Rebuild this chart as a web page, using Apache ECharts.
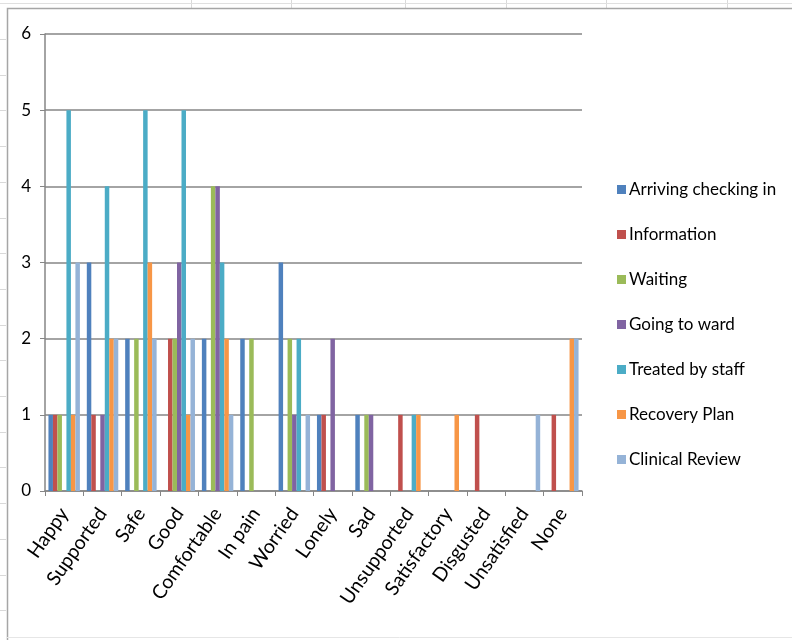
<!DOCTYPE html>
<html>
<head>
<meta charset="utf-8">
<script src="https://cdn.jsdelivr.net/npm/echarts@6/dist/echarts.min.js"></script>
<style>
  html, body { margin: 0; padding: 0; background: #ffffff; }
  #chart { width: 792px; height: 640px; }
</style>
</head>
<body>
<div id="chart"></div>
<script>
// Feelings reported at each stage of the patient journey
const categories = ['Happy', 'Supported', 'Safe', 'Good', 'Comfortable', 'In pain', 'Worried',
  'Lonely', 'Sad', 'Unsupported', 'Satisfactory', 'Disgusted', 'Unsatisfied', 'None'];

const seriesNames = ['Arriving checking in', 'Information', 'Waiting', 'Going to ward',
  'Treated by staff', 'Recovery Plan', 'Clinical Review'];

const arrivingCheckingIn = [1, 3, 2, 0, 2, 2, 3, 1, 1, 0, 0, 0, 0, 0];
const information        = [1, 1, 0, 2, 0, 0, 0, 1, 0, 1, 0, 1, 0, 1];
const waiting            = [1, 0, 2, 2, 4, 2, 2, 0, 1, 0, 0, 0, 0, 0];
const goingToWard        = [0, 1, 0, 3, 4, 0, 1, 2, 1, 0, 0, 0, 0, 0];
const treatedByStaff     = [5, 4, 5, 5, 3, 0, 2, 0, 0, 1, 0, 0, 0, 0];
const recoveryPlan       = [1, 2, 3, 1, 2, 0, 0, 0, 0, 1, 1, 0, 0, 2];
const clinicalReview     = [3, 2, 2, 2, 1, 0, 1, 0, 0, 0, 0, 0, 1, 2];

const yTicks = [0, 1, 2, 3, 4, 5, 6];

const seriesValues = [arrivingCheckingIn, information, waiting, goingToWard,
  treatedByStaff, recoveryPlan, clinicalReview];
const colors = ['#4F81BD', '#C0504D', '#9BBB59', '#8064A2', '#4BACC6', '#F79646', '#95B3D7'];

const axisGray = '#868686';
const font = 'Lato';

// spreadsheet cell lines around the chart object
const sheetLines = [];
[191, 291, 405, 506, 606, 727].forEach(function (x) {
  sheetLines.push({ type: 'line', shape: { x1: x + 0.5, y1: 0, x2: x + 0.5, y2: 8 },
    style: { stroke: '#d9d9d9', lineWidth: 1 }, silent: true });
});
sheetLines.push({ type: 'line', shape: { x1: 0, y1: 3.5, x2: 792, y2: 3.5 },
  style: { stroke: '#e0e0e0', lineWidth: 1 }, silent: true });
for (let y = 39; y < 640; y += 35.7) {
  sheetLines.push({ type: 'line', shape: { x1: 0, y1: Math.round(y) + 0.5, x2: 6, y2: Math.round(y) + 0.5 },
    style: { stroke: '#d9d9d9', lineWidth: 1 }, silent: true });
}
// chart object border
sheetLines.push({ type: 'polyline', shape: { points: [[7.5, 640], [7.5, 8.5], [792, 8.5]] },
  style: { stroke: '#a6a6a6', fill: null, lineWidth: 1.5 }, silent: true });
sheetLines.push({ type: 'line', shape: { x1: 7, y1: 637.5, x2: 792, y2: 637.5 },
  style: { stroke: '#e6e6e6', lineWidth: 1 }, silent: true });

const chart = echarts.init(document.getElementById('chart'), null, { renderer: 'canvas' });

chart.setOption({
  animation: false,
  backgroundColor: '#ffffff',
  color: colors,
  graphic: sheetLines,
  grid: { left: 45, right: 210, top: 34, bottom: 149, containLabel: false },
  legend: {
    orient: 'vertical',
    left: 612,
    top: 175,
    itemGap: 26,
    itemWidth: 9,
    itemHeight: 9,
    icon: 'rect',
    data: seriesNames,
    textStyle: { fontFamily: font, fontSize: 17, lineHeight: 19, color: '#000000', padding: [0, 0, 0, -2] }
  },
  xAxis: {
    type: 'category',
    data: categories,
    boundaryGap: true,
    axisLine: { lineStyle: { color: axisGray, width: 1.5 } },
    axisTick: { show: true, alignWithLabel: false, length: 5, lineStyle: { color: axisGray } },
    axisLabel: {
      interval: 0,
      rotate: 55,
      margin: 19,
      fontFamily: font,
      fontSize: 19.5,
      color: '#000000'
    }
  },
  yAxis: {
    type: 'value',
    min: yTicks[0],
    max: yTicks[yTicks.length - 1],
    interval: 1,
    axisLine: { show: true, lineStyle: { color: axisGray, width: 1.5 } },
    axisTick: { show: true, length: 5, lineStyle: { color: axisGray } },
    splitLine: { show: true, lineStyle: { color: axisGray, width: 1.5 } },
    axisLabel: { margin: 14, fontFamily: font, fontSize: 17, color: '#000000' }
  },
  series: seriesNames.map(function (name, i) {
    return {
      name: name,
      type: 'bar',
      data: seriesValues[i],
      barGap: '0%',
      barCategoryGap: '18%',
      itemStyle: { color: colors[i] }
    };
  })
});
</script>
</body>
</html>
